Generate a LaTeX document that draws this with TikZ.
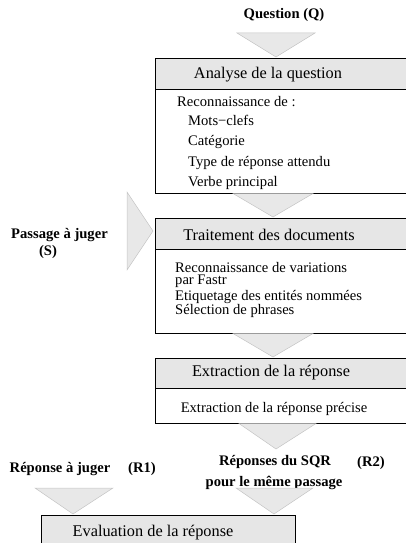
\documentclass[tikz,border=0pt]{standalone}
\usepackage{fontspec}
\setmainfont{Liberation Serif}
\definecolor{hdrgray}{HTML}{E6E6E6}
\definecolor{trigray}{HTML}{E8E8E8}
\definecolor{tribord}{HTML}{C4C4C4}
\begin{document}
\begin{tikzpicture}[x=1pt,y=-1pt,
  hdr/.style={fill=hdrgray, draw=black, line width=0.9pt},
  bodybox/.style={fill=white, draw=black, line width=0.9pt},
  tri/.style={fill=trigray, draw=tribord, line width=0.5pt},
  htxt/.style={font=\fontsize{16.3}{18}\selectfont, inner sep=0pt},
  btxt/.style={font=\fontsize{14.6}{16}\selectfont, anchor=west, inner sep=0pt},
  bbase/.style={font=\fontsize{14.6}{16}\selectfont, anchor=base west, inner sep=0pt},
  ltxt/.style={font=\fontsize{14.6}{16}\selectfont\bfseries, inner sep=0pt}]
\useasboundingbox (0,0) rectangle (406,543);
\clip (0,0) rectangle (406,543);
% top label
\node[ltxt] (q) at (284,15) {Question (Q)};
\filldraw[tri] (237,33) -- (315,33) -- (276,57) -- cycle;
% box 1
\draw[bodybox] (155,89) rectangle (420,193);
\draw[hdr] (155,58) rectangle (420,89);
\node[htxt] (h1) at (268,75) {Analyse de la question};
\node[btxt] (b1a) at (177,102) {Reconnaissance de :};
\node[btxt] (b1b) at (188,120) {Mots−clefs};
\node[btxt] (b1c) at (188,142) {Catégorie};
\node[btxt] (b1d) at (188,163) {Type de réponse attendu};
\node[btxt] (b1e) at (188,183) {Verbe principal};
\filldraw[tri] (233,193.5) -- (313,193.5) -- (273,217) -- cycle;
% side input
\filldraw[tri] (127,192) -- (153,231) -- (127,270) -- cycle;
\node[ltxt] (s1) at (59.5,235) {Passage à juger};
\node[ltxt] (s2) at (48,252) {(S)};
% box 2
\draw[bodybox] (155,249) rectangle (420,333);
\draw[hdr] (155,218) rectangle (420,249);
\node[htxt] (h2) at (269,235) {Traitement des documents};
\node[bbase] (b2a) at (175,272.5) {Reconnaissance de variations};
\node[bbase] (b2b) at (175,284.5) {par Fastr};
\node[bbase] (b2c) at (175,300) {Etiquetage des entités nommées};
\node[btxt] (b2d) at (175,310.5) {Sélection de phrases};
\filldraw[tri] (233,333.5) -- (313,333.5) -- (273,357) -- cycle;
% box 3
\draw[bodybox] (155,388) rectangle (420,423);
\draw[hdr] (155,358) rectangle (420,388);
\node[htxt] (h3) at (271,373) {Extraction de la réponse};
\node[htxt, font=\fontsize{14.6}{16}\selectfont] (b3a) at (274,409) {Extraction de la réponse précise};
\filldraw[tri] (239,423.5) -- (316,423.5) -- (276,449) -- cycle;
% answers
\node[ltxt] (r2a) at (275,462) {Réponses du SQR};
\node[ltxt] (r2b) at (371,463) {(R2)};
\node[ltxt] (r2c) at (274,483) {pour le même passage};
\node[ltxt] (r1a) at (60,469) {Réponse à juger};
\node[ltxt] (r1b) at (142,469) {(R1)};
\filldraw[tri] (35,488) -- (113,488) -- (73,514) -- cycle;
\filldraw[tri] (236,488) -- (313,488) -- (274,514) -- cycle;
% box 4
\draw[hdr] (41,515) rectangle (295,560);
\node[htxt] (h4) at (153,533) {Evaluation de la réponse};
\end{tikzpicture}
\end{document}
